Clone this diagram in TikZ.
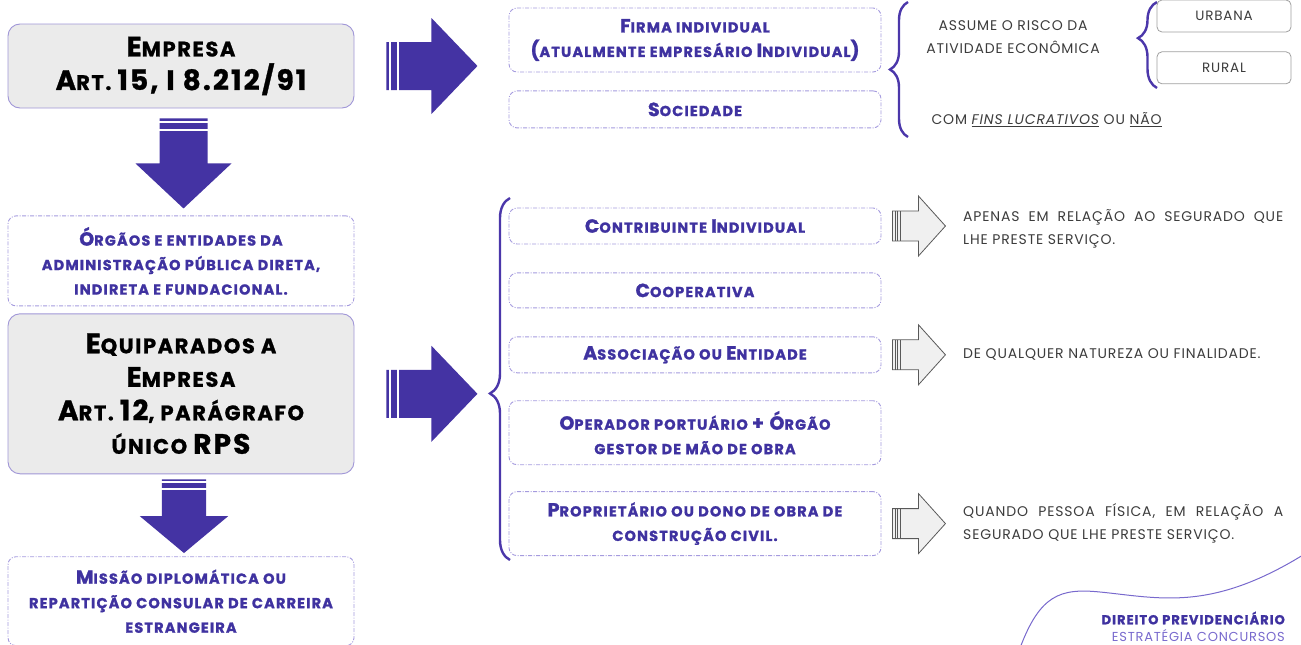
\documentclass[tikz,border=0pt]{standalone}
\usepackage{fontspec}
\setmainfont{Poppins}
\newfontfamily\boxfont{Poppins}[LetterSpace=8, BoldFeatures={FakeBold=1.2}]
\newfontfamily\headfont{Poppins}[LetterSpace=7.5, BoldFeatures={FakeBold=1}]
\newfontfamily\notefont{Poppins}[LetterSpace=6]
\usetikzlibrary{positioning, calc, decorations.pathreplacing}

\definecolor{arrowpurple}{RGB}{68,51,163}
\definecolor{textpurple}{RGB}{63,50,160}
\definecolor{dashline}{RGB}{165,155,222}
\definecolor{boxline}{RGB}{160,150,215}
\definecolor{boxfill}{RGB}{235,235,235}
\definecolor{bracepurple}{RGB}{75,55,170}
\definecolor{softgray}{RGB}{60,60,60}
\definecolor{footpurple}{RGB}{120,105,205}

\newcommand{\Cap}[1]{{\capsize #1}}

\tikzset{
  bigright/.pic={
    \fill[arrowpurple] (0,-24) -- (45,-24) -- (45,-48) -- (91,0) -- (45,48) -- (45,24) -- (0,24) -- cycle;
    \draw[white, line width=2pt] (3.5,-25) -- (3.5,25) (11.5,-25) -- (11.5,25);
  },
  bigdown/.pic={
    \fill[arrowpurple] (-24,0) -- (24,0) -- (24,45) -- (48,45) -- (0,90) -- (-48,45) -- (-24,45) -- cycle;
    \draw[white, line width=2pt] (-25,3.5) -- (25,3.5) (-25,11.5) -- (25,11.5);
  },
  grayright/.pic={
    \draw[fill=gray!12, draw=gray!70!black, line width=0.8pt] (0,-15) -- (26,-15) -- (26,-30) -- (53,0) -- (26,30) -- (26,15) -- (0,15) -- cycle;
    \draw[gray!70!black, line width=0.8pt] (2.5,-15) -- (2.5,15) (5,-15) -- (5,15) (7.5,-15) -- (7.5,15);
  }
}

\begin{document}
\begin{tikzpicture}[x=1pt, y=-1pt,
  bigbox/.style={draw=boxline, fill=boxfill, line width=0.9pt, rounded corners=12pt,
    minimum width=346pt, inner sep=2pt, align=center,
    font=\headfont\bfseries\fontsize{21}{33.5}\selectfont\def\capsize{\fontsize{28}{33.5}\selectfont}},
  dashbox/.style={draw=dashline, line width=0.9pt, dash pattern=on 4pt off 1.5pt on 1pt off 1.5pt,
    rounded corners=8pt, inner sep=2pt, align=center, text=textpurple,
    font=\boxfont\bfseries\fontsize{14.5}{24.5}\selectfont\def\capsize{\fontsize{19}{24.5}\selectfont}},
  leftbox/.style={dashbox, minimum width=346pt},
  rightbox/.style={dashbox, minimum width=372pt},
  grayline/.style={text=softgray, font=\notefont\fontsize{14}{23}\selectfont},
  choicebox/.style={draw=gray!75, line width=0.8pt, rounded corners=5pt, minimum width=134pt,
    minimum height=32pt, text=softgray, font=\notefont\fontsize{13.5}{16}\selectfont},
  bracestyle/.style={decorate, decoration={brace, amplitude=#1}, draw=bracepurple, line width=2.4pt},
]
\useasboundingbox (0,0) rectangle (1301,645);

% left column
\node[bigbox, minimum height=84pt] (empresa) at (181,66)
  {\Cap{E}MPRESA\\\Cap{A}RT. \Cap{15, I 8.212/91}};
\node[leftbox, minimum height=90pt, below=107pt of empresa] (orgaos)
  {\Cap{Ó}RGÃOS E ENTIDADES DA\\ADMINISTRAÇÃO PÚBLICA DIRETA,\\INDIRETA E FUNDACIONAL.};
\node[bigbox, minimum height=160pt, below=7pt of orgaos] (equip)
  {\Cap{E}QUIPARADOS A\\\Cap{E}MPRESA\\\Cap{A}RT. \Cap{12}, PARÁGRAFO\\ÚNICO \Cap{RPS}};
\node[leftbox, minimum height=89pt, below=82pt of equip] (missao)
  {\Cap{M}ISSÃO DIPLOMÁTICA OU\\REPARTIÇÃO CONSULAR DE CARREIRA\\ESTRANGEIRA};

\pic at ($(empresa.south)+(2.5,10)$) {bigdown};
\pic[xscale=0.92, yscale=0.82] at ($(equip.south)+(3,5)$) {bigdown};
\pic at ($(empresa.east)+(32,0)$) {bigright};
\pic at ($(equip.east)+(32,0)$) {bigright};

% top right
\node[rightbox, minimum height=64pt] (firma) at (695,40)
  {\Cap{F}IRMA INDIVIDUAL\\\Cap{(}ATUALMENTE EMPRESÁRIO \Cap{I}NDIVIDUAL\Cap{)}};
\node[rightbox, minimum height=37pt, below=18pt of firma] (sociedade) {\Cap{S}OCIEDADE};

\draw[bracestyle=18pt] (908,137) -- (908,2);
\node[grayline, align=center] (risco) at (1013,37) {ASSUME O RISCO DA\\ATIVIDADE ECONÔMICA};
\draw[bracestyle=19pt, decoration={aspect=0.58}] (1157,88) -- (1157,2);
\node[choicebox] (urbana) at (1224,16) {URBANA};
\node[choicebox, below=19pt of urbana] (rural) {RURAL};
\node[grayline, anchor=west] (fins) at (928,120)
  {COM \underline{\itshape FINS LUCRATIVOS} OU \underline{NÃO}};

% bottom right
\node[rightbox, minimum height=36pt] (contrib) at (695,226)
  {\Cap{C}ONTRIBUINTE \Cap{I}NDIVIDUAL};
\node[rightbox, minimum height=35pt, below=28pt of contrib] (coop) {\Cap{C}OOPERATIVA};
\node[rightbox, minimum height=36pt, below=28pt of coop] (assoc)
  {\Cap{A}SSOCIAÇÃO OU \Cap{E}NTIDADE};
\node[rightbox, minimum height=64pt, below=27pt of assoc] (operador)
  {\Cap{O}PERADOR PORTUÁRIO \Cap{+ Ó}RGÃO\\GESTOR DE MÃO DE OBRA};
\node[rightbox, minimum height=64pt, below=26pt of operador] (propriet)
  {\Cap{P}ROPRIETÁRIO OU DONO DE OBRA DE\\CONSTRUÇÃO CIVIL.};

\draw[bracestyle=20pt, decoration={aspect=0.46}] (510,560) -- (510,198);

\pic at ($(contrib.east)+(11,0)$) {grayright};
\pic at ($(assoc.east)+(11,0)$) {grayright};
\pic at ($(propriet.east)+(11,0)$) {grayright};

\node[grayline, anchor=west, text width=320pt, align=justify, inner sep=0pt] (apenas) at (963,229)
  {APENAS EM RELAÇÃO AO SEGURADO QUE\linebreak LHE PRESTE SERVIÇO.};
\node[grayline, anchor=west, inner sep=0pt] (natureza) at (963,354) {DE QUALQUER NATUREZA OU FINALIDADE.};
\node[grayline, anchor=west, text width=320pt, align=justify, inner sep=0pt] (quando) at (963,523)
  {QUANDO PESSOA FÍSICA, EM RELAÇÃO A\linebreak SEGURADO QUE LHE PRESTE SERVIÇO.};

% footer
\draw[footpurple, line width=1pt] (1020,648) .. controls (1040,595) and (1060,588) .. (1100,592)
  .. controls (1160,598) and (1210,612) .. (1303,555);
\node[anchor=east, inner sep=0pt, text=textpurple, font=\boxfont\bfseries\fontsize{13}{16}\selectfont] (direito) at (1285,618)
  {DIREITO PREVIDENCIÁRIO};
\node[text=footpurple, inner sep=0pt, font=\notefont\fontsize{13}{16}\selectfont, below=5pt of direito.south east, anchor=north east] (estrategia)
  {ESTRATÉGIA CONCURSOS};
\end{tikzpicture}
\end{document}
